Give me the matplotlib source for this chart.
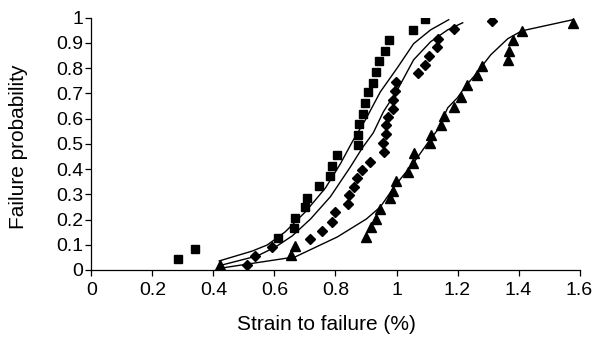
import matplotlib
matplotlib.use("Agg")
import matplotlib.pyplot as plt

plt.rcParams['font.family'] = ['Liberation Sans', 'DejaVu Sans']

# Series 1: squares
sq_x = [0.285, 0.338, 0.611, 0.663, 0.666, 0.699, 0.705, 0.747, 0.783, 0.788, 0.804, 0.873,
        0.873, 0.877, 0.890, 0.898, 0.907, 0.924, 0.932, 0.943, 0.961, 0.975, 1.053, 1.095]
sq_y = [0.042, 0.082, 0.125, 0.165, 0.205, 0.249, 0.287, 0.331, 0.374, 0.413, 0.454, 0.495,
        0.537, 0.579, 0.619, 0.661, 0.707, 0.743, 0.786, 0.827, 0.870, 0.913, 0.952, 0.996]

# Series 2: diamonds
dm_x = [0.510, 0.537, 0.592, 0.715, 0.755, 0.790, 0.800, 0.842, 0.845, 0.860, 0.869, 0.888,
        0.912, 0.958, 0.955, 0.964, 0.967, 0.971, 0.990, 0.989, 0.995, 0.999, 1.070, 1.093,
        1.105, 1.134, 1.136, 1.190, 1.314]
dm_y = [0.021, 0.056, 0.090, 0.123, 0.156, 0.192, 0.231, 0.262, 0.298, 0.328, 0.364, 0.396,
        0.430, 0.468, 0.503, 0.538, 0.573, 0.606, 0.640, 0.675, 0.711, 0.747, 0.781, 0.813,
        0.849, 0.882, 0.917, 0.954, 0.988]

# Series 3: triangles
tr_x = [0.422, 0.654, 0.668, 0.900, 0.917, 0.933, 0.947, 0.979, 0.990, 0.998, 1.037, 1.055,
        1.057, 1.111, 1.113, 1.145, 1.155, 1.189, 1.211, 1.230, 1.265, 1.281, 1.366, 1.369,
        1.383, 1.410, 1.577]
tr_y = [0.020, 0.058, 0.094, 0.132, 0.169, 0.202, 0.242, 0.285, 0.313, 0.353, 0.390, 0.426,
        0.463, 0.503, 0.535, 0.573, 0.609, 0.647, 0.687, 0.732, 0.773, 0.810, 0.833, 0.870,
        0.910, 0.948, 0.981]

# Fitted curves
fitA_x = [0.419, 0.527, 0.576, 0.635, 0.701, 0.767, 0.816, 0.855, 0.898, 0.947, 1.003, 1.056, 1.112, 1.171]
fitA_y = [0.036, 0.075, 0.099, 0.151, 0.230, 0.325, 0.421, 0.508, 0.595, 0.706, 0.802, 0.897, 0.952, 0.992]

fitB_x = [0.422, 0.544, 0.603, 0.658, 0.718, 0.783, 0.849, 0.888, 0.924, 0.957, 1.003, 1.056, 1.112, 1.168, 1.217]
fitB_y = [0.018, 0.056, 0.091, 0.135, 0.202, 0.290, 0.409, 0.484, 0.544, 0.627, 0.714, 0.833, 0.905, 0.952, 0.980]

fitC_x = [0.422, 0.668, 0.806, 0.901, 0.947, 0.997, 1.056, 1.105, 1.135, 1.168, 1.200, 1.227, 1.253, 1.309, 1.365, 1.411, 1.578]
fitC_y = [0.007, 0.052, 0.131, 0.202, 0.250, 0.337, 0.425, 0.508, 0.556, 0.643, 0.683, 0.730, 0.766, 0.853, 0.917, 0.948, 0.992]

x_ticks = [0, 0.2, 0.4, 0.6, 0.8, 1.0, 1.2, 1.4, 1.6]
x_ticklabels = ['0', '0.2', '0.4', '0.6', '0.8', '1', '1.2', '1.4', '1.6']
y_ticks = [0, 0.1, 0.2, 0.3, 0.4, 0.5, 0.6, 0.7, 0.8, 0.9, 1.0]
y_ticklabels = ['0', '0.1', '0.2', '0.3', '0.4', '0.5', '0.6', '0.7', '0.8', '0.9', '1']

fig = plt.figure(figsize=(6.09, 3.38), dpi=100)
ax = fig.add_axes([0.1502, 0.2012, 0.8014, 0.7464])

for fx, fy in [(fitA_x, fitA_y), (fitB_x, fitB_y), (fitC_x, fitC_y)]:
    ax.plot(fx, fy, color='black', lw=1.0, zorder=2)

ax.plot(sq_x, sq_y, 's', color='black', ms=5.5, zorder=3)
ax.plot(dm_x, dm_y, 'D', color='black', ms=5, zorder=3)
ax.plot(tr_x, tr_y, '^', color='black', ms=6.5, zorder=3)

ax.set_xlim(0, 1.6)
ax.set_ylim(0, 1.0)
ax.set_xticks(x_ticks)
ax.set_xticklabels(x_ticklabels)
ax.set_yticks(y_ticks)
ax.set_yticklabels(y_ticklabels)
ax.spines['top'].set_visible(False)
ax.spines['right'].set_visible(False)
for s in ['left', 'bottom']:
    ax.spines[s].set_linewidth(0.9)
ax.tick_params(direction='out', length=4, width=0.9, labelsize=14, colors='black')
ax.tick_params(axis='x', pad=5)
ax.tick_params(axis='y', pad=2)
ax.set_xlabel('Strain to failure (%)', fontsize=15)
ax.set_ylabel('Failure probability', fontsize=15)
ax.xaxis.set_label_coords(0.4805, -0.18)
ax.yaxis.set_label_coords(-0.130, 0.49)

fig.savefig('out.png', dpi=100)
